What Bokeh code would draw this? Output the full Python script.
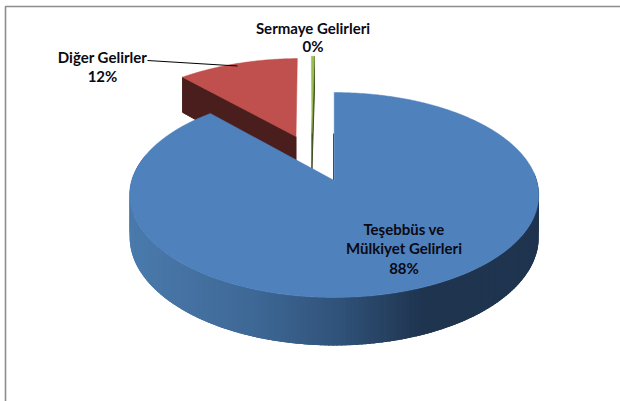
import numpy as np
from bokeh.plotting import figure
from bokeh.embed import file_html
from bokeh.resources import INLINE
from bokeh.core.properties import value

categories = ["Teşebbüs ve Mülkiyet Gelirleri", "Diğer Gelirler", "Sermaye Gelirleri"]
values = [88.2, 11.5, 0.3]
percent_labels = ["88%", "12%", "0%"]
top_colors = ["#4F81BD", "#C0504D", "#9BBB59"]
wall_colors = ["#1F344F", "#4A1E1C", "#3F5222"]
explode = [(0.0, 0.0), (-0.201, 0.467), (-0.118, 0.50)]

CX, CY, A, B, K, DEPTH = 333.7, 180.0, 202.5, 100.4, 0.1415, 41.2
FONT = value("Lato")

def proj(X, Y):
    w = 1 + K * Y
    return CX + A * X / w, CY - B * Y / w

def proj_low(X, Y):
    w = 1 + K * Y
    return CX + A * X / w, CY - B * Y / w + DEPTH / w

def rim(theta_deg, off):
    t = np.radians(theta_deg)
    return off[0] + np.sin(t), off[1] + np.cos(t)

def lerp_color(x):
    xs = [130, 250, 330, 400, 420, 540]
    rs = [[0x4A, 0x7A, 0xAC], [0x3E, 0x68, 0x96], [0x31, 0x54, 0x7C], [0x23, 0x3B, 0x59], [0x1F, 0x34, 0x4F], [0x1F, 0x34, 0x4F]]
    c = [int(round(np.interp(x, xs, [r[i] for r in rs]))) for i in range(3)]
    return "#%02x%02x%02x" % tuple(c)

p = figure(width=620, height=401, x_range=(0, 620), y_range=(401, 0), min_border=0,
           toolbar_location=None, output_backend="svg")
p.axis.visible = False
p.grid.visible = False
p.outline_line_color = None

# chart frame
p.line([5, 5, 620], [401, 6, 6], line_color="#8C8C8C", line_width=1.6)

edges = np.cumsum([0] + values) * 3.6
order = [1, 2, 0]
for i in order:
    a0, a1 = edges[i], edges[i + 1]
    off = explode[i]
    th = np.linspace(a0, a1, max(4, int((a1 - a0) * 2)))
    Xr, Yr = rim(th, off)
    if i == 0:
        # side wall: overlapping strips, painted so no seams show between them
        tw = np.arange(85, 285, 1.0)
        xs, ys, cs = [], [], []
        for t0 in tw[:-1]:
            t1 = t0 + 2.5
            X0, Y0 = rim(t0, off); X1, Y1 = rim(t1, off)
            ax, ay = proj(X0, Y0); bx, by = proj(X1, Y1)
            cx, cy = proj_low(X1, Y1); dx, dy = proj_low(X0, Y0)
            xs.append([ax, bx, cx, dx]); ys.append([ay, by, cy, dy])
            cs.append(lerp_color((ax + bx) / 2))
        p.patches(xs, ys, fill_color=cs, line_color=None)
        X0, Y0 = rim(a0, off)
        lx0, ly0 = proj(off[0], off[1])
        lx1, ly1 = proj(off[0] + 0.5 * (X0 - off[0]), off[1] + 0.5 * (Y0 - off[1]))
        p.line([lx0 - 0.6, lx1 - 0.6], [ly0, ly1], line_color=wall_colors[0], line_width=1)
    else:
        for ang in ([a0] if i == 1 else [a1]):
            X1, Y1 = rim(ang, off)
            pts = [proj(off[0], off[1]), proj(X1, Y1), proj_low(X1, Y1), proj_low(off[0], off[1])]
            p.patch([q[0] for q in pts], [q[1] for q in pts],
                    fill_color=wall_colors[i], line_color=wall_colors[i], line_width=1)
    tx, ty = proj(Xr, Yr)
    ax, ay = proj(off[0], off[1])
    p.patch(list(tx) + [ax], list(ty) + [ay], fill_color=top_colors[i], line_color=top_colors[i], line_width=0.5)

p.line([147, 237], [60, 65.5], line_color="#000000", line_width=1)

label_x = [403.5, 102, 312.5]
label_lines = [["Teşebbüs ve", "Mülkiyet Gelirleri", percent_labels[0]],
               ["Diğer Gelirler", percent_labels[1]],
               ["Sermaye Gelirleri", percent_labels[2]]]
label_y = [[228, 247, 267], [56, 75], [27, 45]]
tx, ty, tt = [], [], []
for x, lines, ys in zip(label_x, label_lines, label_y):
    for s, y in zip(lines, ys):
        tx.append(x); ty.append(y); tt.append(s)
p.text(tx, ty, text=tt, text_font=FONT, text_font_style="bold", text_font_size="15px",
       text_align="center", text_baseline="middle", text_color="#0A0A14")

open("out.html", "w").write(file_html(p, INLINE))
